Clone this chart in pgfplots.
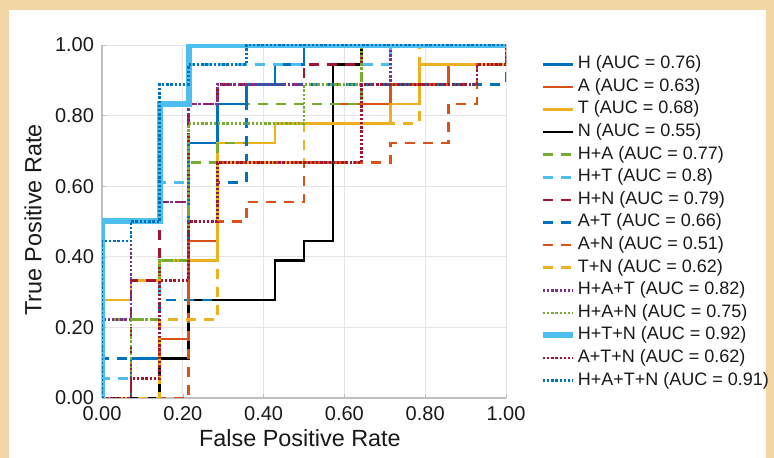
\documentclass[border=0pt]{standalone}
\usepackage{fontspec}
\setmainfont{Liberation Sans}
\usepackage{pgfplots}
\pgfplotsset{compat=1.18}
\definecolor{tanbg}{RGB}{242,215,165}
\definecolor{mblue}{RGB}{0,114,189}
\definecolor{morange}{RGB}{217,83,25}
\definecolor{myellow}{RGB}{237,177,32}
\definecolor{mpurple}{RGB}{126,47,142}
\definecolor{mgreen}{RGB}{119,172,48}
\definecolor{mcyan}{RGB}{77,190,238}
\definecolor{mred}{RGB}{162,20,47}
\begin{document}
\begin{tikzpicture}
\fill[tanbg] (-51pt,-30pt) rectangle (336pt,199pt);
\fill[white] (-46.5pt,-30pt) rectangle (332pt,194pt);
\useasboundingbox (-51pt,-30pt) rectangle (336pt,199pt);
\begin{axis}[
    scale only axis,
    width=202pt, height=176.5pt,
    xmin=0, xmax=1, ymin=0, ymax=1,
    xtick={0,0.2,0.4,0.6,0.8,1}, ytick={0,0.2,0.4,0.6,0.8,1},
    xticklabels={0.00,0.20,0.40,0.60,0.80,1.00},
    yticklabels={0.00,0.20,0.40,0.60,0.80,1.00},
    grid=major, grid style={black!10, line width=0.4pt},
    axis x line*=bottom, axis y line*=left,
    axis line style={black!25, line width=0.8pt},
    tick style={black!25}, tick align=inside, major tick length=2pt,
    ticklabel style={font=\fontsize{10}{11}\selectfont, text=black!90},
    xticklabel style={yshift=-0.5pt},
    yticklabel style={xshift=-0.5pt},
    xlabel={False Positive Rate}, ylabel={True Positive Rate},
    label style={font=\fontsize{11.7}{13}\selectfont, text=black!90},
    xlabel style={at={(axis description cs:0.49,-0.113)}, anchor=center},
    ylabel style={at={(axis description cs:-0.171,0.504)}, anchor=center, rotate=0},
    legend cell align=left,
    legend image code/.code={\draw[#1] (0pt,0pt) -- (15pt,0pt);},
    legend style={at={(axis description cs:1.068,0.982)}, anchor=north west,
        draw=none, fill=none, font=\fontsize{9}{10}\selectfont, row sep=2.8pt,
        nodes={inner sep=0pt, text height=6.5pt, text depth=2pt, text=black!90},
        /tikz/every even column/.append style={column sep=0pt}},
    /tikz/every odd column/.append style={column sep=1pt},
    every axis plot/.append style={line width=1.3pt, line join=miter},
]
% H
\addplot[mblue] coordinates {(0,0)(0.0714,0)(0.0714,0.1111)(0.2143,0.1111)(0.2143,0.7222)(0.2857,0.7222)(0.2857,0.8333)(0.3571,0.8333)(0.3571,0.8889)(0.4286,0.8889)(0.4286,0.9444)(0.5,0.9444)(0.5,1)(1,1)};
% A
\addplot[morange] coordinates {(0,0)(0.1429,0)(0.1429,0.1667)(0.2143,0.1667)(0.2143,0.4444)(0.2857,0.4444)(0.2857,0.6667)(0.5714,0.6667)(0.5714,0.8333)(0.7143,0.8333)(0.7143,0.8889)(0.8571,0.8889)(0.8571,0.9444)(1,0.9444)(1,1)};
% T
\addplot[myellow] coordinates {(0,0)(0,0.2778)(0.0714,0.2778)(0.0714,0.3333)(0.1429,0.3333)(0.1429,0.3889)(0.2857,0.3889)(0.2857,0.7222)(0.4286,0.7222)(0.4286,0.7778)(0.7143,0.7778)(0.7143,0.8333)(0.7857,0.8333)(0.7857,0.9444)(1,0.9444)(1,1)};
% N
\addplot[black] coordinates {(0,0)(0.1429,0)(0.1429,0.1111)(0.2143,0.1111)(0.2143,0.2778)(0.4286,0.2778)(0.4286,0.3889)(0.5,0.3889)(0.5,0.4444)(0.5714,0.4444)(0.5714,0.9444)(0.6429,0.9444)(0.6429,1)(1,1)};
% H+A
\addplot[mgreen, dash pattern=on 5pt off 4pt] coordinates {(0,0)(0,0.2222)(0.1429,0.2222)(0.1429,0.3889)(0.2143,0.3889)(0.2143,0.6667)(0.2857,0.6667)(0.2857,0.7222)(0.3571,0.7222)(0.3571,0.8333)(0.6429,0.8333)(0.6429,1)(1,1)};
% H+T
\addplot[mcyan, dash pattern=on 5pt off 4pt] coordinates {(0,0)(0,0.0556)(0.0714,0.0556)(0.0714,0.1111)(0.1429,0.1111)(0.1429,0.6111)(0.2143,0.6111)(0.2143,0.9444)(0.7143,0.9444)(0.7143,1)(1,1)};
% H+N
\addplot[mred, dash pattern=on 5pt off 4pt] coordinates {(0,0)(0.0714,0)(0.0714,0.3333)(0.1429,0.3333)(0.1429,0.5556)(0.2143,0.5556)(0.2143,0.8333)(0.2857,0.8333)(0.2857,0.8889)(0.5,0.8889)(0.5,0.9444)(0.6429,0.9444)(0.6429,1)(1,1)};
% A+T
\addplot[mblue, dash pattern=on 5pt off 4pt] coordinates {(0,0)(0,0.1111)(0.1429,0.1111)(0.1429,0.2778)(0.2857,0.2778)(0.2857,0.6111)(0.3571,0.6111)(0.3571,0.8889)(1,0.8889)(1,1)};
% A+N
\addplot[morange, dash pattern=on 5pt off 4pt] coordinates {(0,0)(0.2143,0)(0.2143,0.4444)(0.2857,0.4444)(0.2857,0.5)(0.3571,0.5)(0.3571,0.5556)(0.5,0.5556)(0.5,0.6667)(0.7143,0.6667)(0.7143,0.7222)(0.8571,0.7222)(0.8571,0.8333)(0.9286,0.8333)(0.9286,0.9444)(1,0.9444)(1,1)};
% T+N
\addplot[myellow, dash pattern=on 5pt off 4pt] coordinates {(0,0)(0.1429,0)(0.1429,0.2222)(0.2857,0.2222)(0.2857,0.6667)(0.5,0.6667)(0.5,0.7778)(0.7857,0.7778)(0.7857,1)(1,1)};
% H+A+T
\addplot[mpurple, dash pattern=on 1.2pt off 0.9pt] coordinates {(0,0)(0,0.2222)(0.0714,0.2222)(0.0714,0.5)(0.1429,0.5)(0.1429,0.5556)(0.2143,0.5556)(0.2143,0.8333)(0.2857,0.8333)(0.2857,0.8889)(0.7143,0.8889)(0.7143,1)(1,1)};
% H+A+N
\addplot[mgreen, dash pattern=on 1.2pt off 0.9pt] coordinates {(0,0)(0.0714,0)(0.0714,0.2222)(0.1429,0.2222)(0.1429,0.3889)(0.2143,0.3889)(0.2143,0.7778)(0.5,0.7778)(0.5,0.8889)(0.6429,0.8889)(0.6429,1)(1,1)};
% H+T+N
\addplot[mcyan, line width=3pt] coordinates {(0,0)(0,0.5)(0.1429,0.5)(0.1429,0.8333)(0.2143,0.8333)(0.2143,1)(1,1)};
% A+T+N
\addplot[mred, dash pattern=on 1.2pt off 0.9pt] coordinates {(0,0)(0.0714,0)(0.0714,0.0556)(0.1429,0.0556)(0.1429,0.3333)(0.2143,0.3333)(0.2143,0.5)(0.2857,0.5)(0.2857,0.6667)(0.6429,0.6667)(0.6429,0.8889)(0.9286,0.8889)(0.9286,0.9444)(1,0.9444)(1,1)};
% H+A+T+N
\addplot[mblue, dash pattern=on 1.2pt off 0.9pt] coordinates {(0,0)(0,0.4444)(0.0714,0.4444)(0.0714,0.5)(0.1429,0.5)(0.1429,0.8889)(0.2143,0.8889)(0.2143,0.9444)(0.3571,0.9444)(0.3571,1)(1,1)};
\legend{H (AUC = 0.76),A (AUC = 0.63),T (AUC = 0.68),N (AUC = 0.55),H+A (AUC = 0.77),H+T (AUC = 0.8),H+N (AUC = 0.79),A+T (AUC = 0.66),A+N (AUC = 0.51),T+N (AUC = 0.62),H+A+T (AUC = 0.82),H+A+N (AUC = 0.75),H+T+N (AUC = 0.92),A+T+N (AUC = 0.62),H+A+T+N (AUC = 0.91)}
\end{axis}
\end{tikzpicture}
\end{document}
